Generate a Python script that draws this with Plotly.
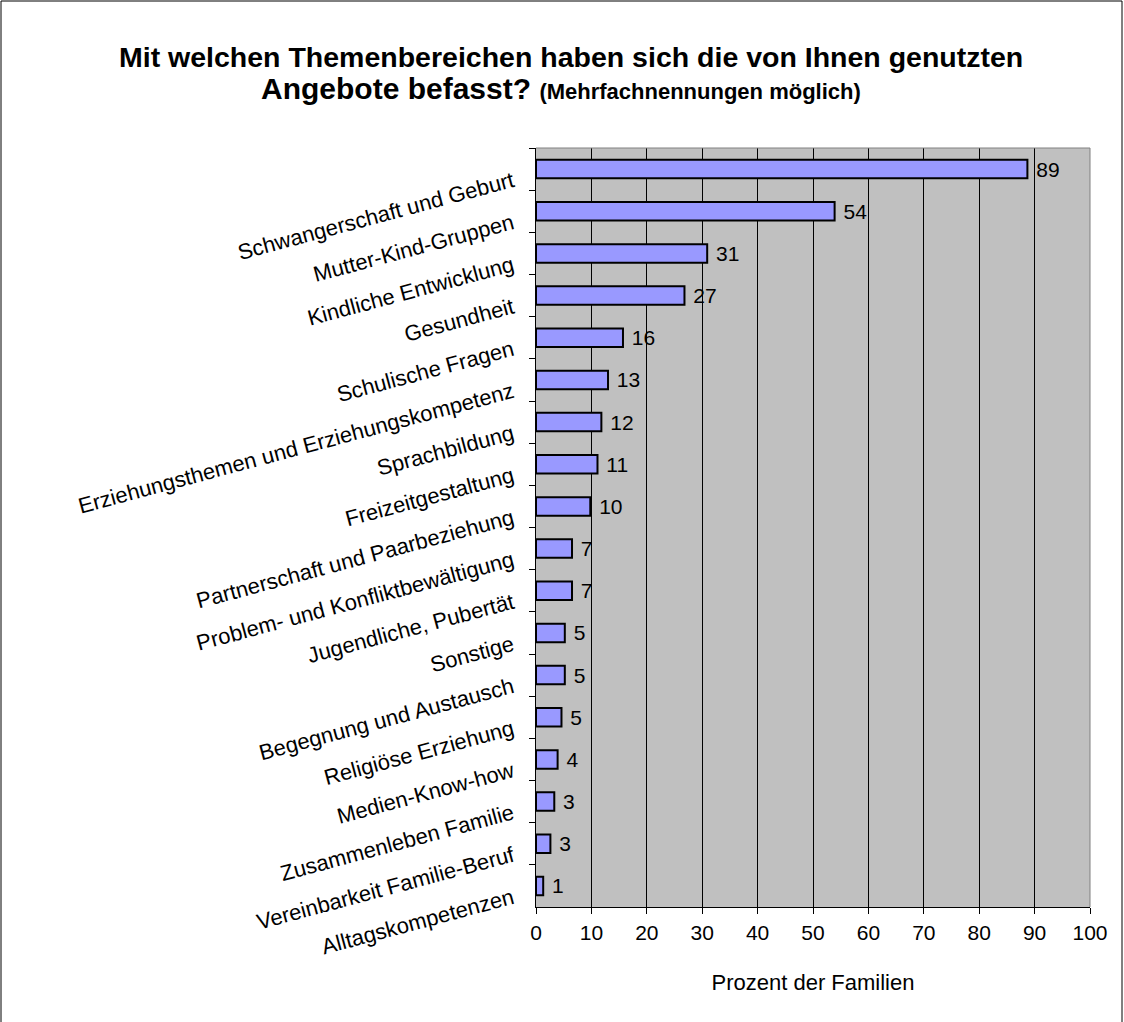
import plotly.graph_objects as go

categories = [
    "Schwangerschaft und Geburt",
    "Mutter-Kind-Gruppen",
    "Kindliche Entwicklung",
    "Gesundheit",
    "Schulische Fragen",
    "Erziehungsthemen und Erziehungskompetenz",
    "Sprachbildung",
    "Freizeitgestaltung",
    "Partnerschaft und Paarbeziehung",
    "Problem- und Konfliktbewältigung",
    "Jugendliche, Pubertät",
    "Sonstige",
    "Begegnung und Austausch",
    "Religiöse Erziehung",
    "Medien-Know-how",
    "Zusammenleben Familie",
    "Vereinbarkeit Familie-Beruf",
    "Alltagskompetenzen",
]
values = [88.7, 53.9, 30.9, 26.8, 15.7, 13.0, 11.8, 11.1, 9.8, 6.5, 6.5, 5.2, 5.2, 4.6, 3.9, 3.3, 2.6, 1.3]
value_labels = ["89", "54", "31", "27", "16", "13", "12", "11", "10", "7", "7", "5", "5", "5", "4", "3", "3", "1"]
x_ticks = [0, 10, 20, 30, 40, 50, 60, 70, 80, 90, 100]

FONT = "Liberation Sans, Arial, sans-serif"
W, H = 1124, 1022
L, R, T, B = 536, 1090, 148, 907

fig = go.Figure()
fig.add_trace(go.Bar(
    y=categories, x=values, orientation="h",
    marker=dict(color="#9999FF", line=dict(color="black", width=2)),
    text=value_labels, texttemplate=" %{text}", textposition="outside", cliponaxis=False,
    constraintext="none",
    textfont=dict(family=FONT, size=21, color="black"),
    hoverinfo="skip",
))

pw, ph = R - L, B - T
def px(x):
    return (x - L) / pw
def py(y):
    return (B - y) / ph

fig.update_layout(
    width=W, height=H,
    margin=dict(l=L, r=W - R, t=T, b=H - B, pad=0),
    paper_bgcolor="white", plot_bgcolor="#C0C0C0",
    bargap=0.56, showlegend=False,
    font=dict(family=FONT, color="black"),
    xaxis=dict(range=[0, 100], tickvals=x_ticks, ticks="outside", ticklen=6,
               tickcolor="black", showline=True, linecolor="black", linewidth=1,
               showgrid=True, gridcolor="black", gridwidth=1, zeroline=False,
               tickfont=dict(size=21), ticklabelstandoff=1,
               title=dict(text="Prozent der Familien", font=dict(size=22), standoff=31)),
    yaxis=dict(autorange="reversed", ticks="outside", ticklen=6, tickcolor="black",
               tickson="boundaries", showline=True, linecolor="black", linewidth=1,
               tickangle=-15, tickfont=dict(size=22), ticklabelstandoff=18,
               ticklabelshift=-10),
    shapes=[
        dict(type="rect", xref="paper", yref="paper", x0=px(1), x1=px(1122), y0=py(1030), y1=py(1),
             line=dict(color="black", width=1), fillcolor="rgba(0,0,0,0)", layer="below"),
        dict(type="line", xref="paper", yref="paper", x0=0, x1=1, y0=1, y1=1, line=dict(color="#808080", width=1)),
        dict(type="line", xref="paper", yref="paper", x0=1, x1=1, y0=0, y1=1, line=dict(color="#808080", width=1)),
    ],
    annotations=[
        dict(xref="paper", yref="paper", x=px(571), y=py(57), xanchor="center", yanchor="middle", showarrow=False,
             text="<b>Mit welchen Themenbereichen haben sich die von Ihnen genutzten</b>", font=dict(size=28.5)),
        dict(xref="paper", yref="paper", x=px(561), y=py(88), xanchor="center", yanchor="middle", showarrow=False,
             text="<b>Angebote befasst? </b><b><span style='font-size:22px'>(Mehrfachnennungen möglich)</span></b>", font=dict(size=30)),
    ],
)

fig.write_html("out.html", config={"displayModeBar": False},
               post_script="document.body.style.margin='0';")
